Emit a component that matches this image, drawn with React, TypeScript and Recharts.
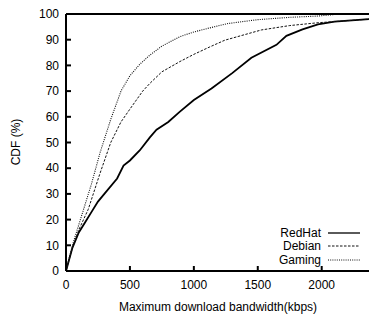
import { LineChart, Line, XAxis, YAxis } from 'recharts'

const xTicks = [0, 500, 1000, 1500, 2000]
const yTicks = [0, 10, 20, 30, 40, 50, 60, 70, 80, 90, 100]

const redhatX = [0, 50, 100, 150, 200, 250, 300, 400, 450, 500, 578, 656, 708, 800, 891, 1000, 1138, 1300, 1450, 1646, 1724, 1850, 1971, 2100, 2370]
const redhatY = [0, 9, 15, 19, 23, 27, 30, 36, 41, 43, 47, 52, 55, 58, 62, 66.5, 71, 77, 83, 88, 91.5, 94, 96, 97, 98]

const debianX = [0, 50, 100, 174, 266, 350, 430, 500, 600, 656, 750, 891, 1000, 1125, 1242, 1529, 1750, 1971, 2370]
const debianY = [0, 9, 16, 24, 38, 50, 58, 63, 70, 73, 77.5, 81.5, 84.3, 87.2, 89.8, 93.8, 95.5, 96.6, 98]

const gamingX = [0, 50, 100, 150, 200, 266, 350, 430, 500, 578, 656, 750, 891, 1000, 1125, 1268, 1500, 1750, 1971, 2100, 2370]
const gamingY = [0, 10, 18, 26, 34, 46, 59, 70, 76, 80.5, 84, 87.5, 91.2, 93, 94.6, 96.3, 97.8, 98.7, 99.2, 99.8, 100]

const toPoints = (xs: number[], ys: number[]) => xs.map((x, i) => ({ x, y: ys[i] }))

const series = [
  { name: 'RedHat', data: toPoints(redhatX, redhatY), dash: undefined, width: 1.8, color: '#000' },
  { name: 'Debian', data: toPoints(debianX, debianY), dash: '2.5 1.5', width: 1, color: '#111' },
  { name: 'Gaming', data: toPoints(gamingX, gamingY), dash: '1 1.2', width: 1.1, color: '#111' },
]

const font = '"Liberation Sans", Arial, sans-serif'

function LegendBox() {
  return (
    <div style={{ position: 'absolute', left: 220, top: 226, width: 140, fontFamily: font, fontSize: 12, color: '#000' }}>
      {series.map((s) => (
        <div key={s.name} style={{ display: 'flex', alignItems: 'center', justifyContent: 'flex-end', height: 13.5 }}>
          <span style={{ marginRight: 7 }}>{s.name}</span>
          <svg width={32} height={4}>
            <line x1={0} y1={2} x2={32} y2={2} stroke={s.color} strokeWidth={s.dash ? 1 : 1.3} strokeDasharray={s.dash} />
          </svg>
        </div>
      ))}
    </div>
  )
}

export default function App() {
  return (
    <div style={{ position: 'absolute', left: 0, top: 0, width: 369, height: 321, background: '#fff' }}>
      <LineChart width={369} height={321} margin={{ top: 0, right: 0, bottom: 0, left: 0 }}>
        <XAxis
          xAxisId="top"
          orientation="top"
          type="number"
          dataKey="x"
          domain={[0, 2370]}
          ticks={xTicks}
          height={14}
          tick={false}
          tickSize={-5}
          stroke="#000"
          strokeWidth={2}
          allowDataOverflow
        />
        <XAxis
          type="number"
          dataKey="x"
          domain={[0, 2370]}
          ticks={xTicks}
          height={50}
          tickSize={-5}
          tickMargin={14}
          stroke="#000"
          strokeWidth={2}
          tick={{ fill: '#000', fontSize: 12, fontFamily: font }}
          allowDataOverflow
          label={{
            content: () => (
              <text x={218} y={311} textAnchor="middle" fontSize={12} fontFamily={font} fill="#000">
                Maximum download bandwidth(kbps)
              </text>
            ),
          }}
        />
        <YAxis
          type="number"
          domain={[0, 100]}
          ticks={yTicks}
          width={66}
          tickSize={-5}
          tickMargin={12}
          stroke="#000"
          strokeWidth={2}
          tick={{ fill: '#000', fontSize: 12, fontFamily: font }}
          label={{
            content: () => (
              <text x={20} y={142} textAnchor="middle" fontSize={12} fontFamily={font} fill="#000" transform="rotate(-90 20 142)">
                CDF (%)
              </text>
            ),
          }}
        />
        {series.map((s) => (
          <Line
            key={s.name}
            data={s.data}
            dataKey="y"
            name={s.name}
            type="linear"
            stroke={s.color}
            strokeWidth={s.width}
            strokeDasharray={s.dash}
            dot={false}
            isAnimationActive={false}
          />
        ))}
      </LineChart>
      <LegendBox />
    </div>
  )
}
